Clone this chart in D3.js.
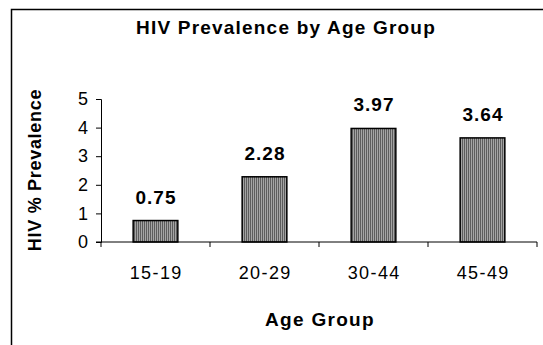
<!DOCTYPE html>
<html><head><meta charset="utf-8">
<script src="https://cdn.jsdelivr.net/npm/d3@7"></script>
<style>body{margin:0;background:#fff}svg{display:block;font-family:"Liberation Sans",Arial,sans-serif}</style>
</head><body><svg id="c" width="543" height="345"></svg>
<script>
const categories = ["15-19","20-29","30-44","45-49"];
const values = [0.75, 2.28, 3.97, 3.64];
const yTicks = [0,1,2,3,4,5];
const titleText = "HIV Prevalence by Age Group";
const xTitle = "Age Group";
const yTitle = "HIV % Prevalence";

const svg = d3.select("#c");
const defs = svg.append("defs");
const pat = defs.append("pattern").attr("id","stripe").attr("patternUnits","userSpaceOnUse")
  .attr("width",2).attr("height",4);
pat.append("rect").attr("width",2).attr("height",4).attr("fill","#a4a4a4");
pat.append("rect").attr("width",1).attr("height",4).attr("fill","#5c5c5c");

// outer border
svg.append("path").attr("d","M11.5,345 V9.5 H543").attr("fill","none").attr("stroke","#000").attr("stroke-width",1.5);

const m = {left:101, right:537, top:99, bottom:242};
const x = d3.scaleBand().domain(categories).range([m.left, m.right]).paddingInner(0.59).paddingOuter(0.295);
const y = d3.scaleLinear().domain([0,5]).range([m.bottom, m.top]);

svg.append("text").attr("x",286).attr("y",34).attr("text-anchor","middle")
  .attr("font-size",19).attr("font-weight","bold").attr("letter-spacing",1.2).text(titleText);

// bars
svg.selectAll("rect.bar").data(values).join("rect").attr("class","bar")
  .attr("x",(d,i)=>x(categories[i])).attr("width",x.bandwidth())
  .attr("y",d=>y(d)).attr("height",d=>y(0)-y(d))
  .attr("fill","url(#stripe)").attr("stroke","#000").attr("stroke-width",1.5);

// value labels
svg.selectAll("text.val").data(values).join("text").attr("class","val")
  .attr("x",(d,i)=>x(categories[i])+x.bandwidth()/2+0.5).attr("y",d=>y(d)-17)
  .attr("text-anchor","middle").attr("font-size",19).attr("font-weight","bold").attr("letter-spacing",1)
  .text(d=>d.toFixed(2));

// y axis
const ya = svg.append("g").attr("transform",`translate(${m.left},0)`)
  .call(d3.axisLeft(y).tickValues(yTicks).tickSize(5).tickPadding(8).tickFormat(d3.format("d")));
ya.select(".domain").attr("stroke","#000");
ya.selectAll("text").attr("font-size",18).attr("font-family","Liberation Sans, Arial").attr("fill","#000");

// x axis
const xa = svg.append("g").attr("transform",`translate(0,${m.bottom})`);
xa.append("line").attr("x1",m.left-5).attr("x2",m.right).attr("stroke","#000");
const edges = categories.map(c=>x(c)-x.step()*x.paddingInner()/2).concat([m.right]);
xa.selectAll("line.t").data(edges).join("line").attr("class","t")
  .attr("x1",d=>d).attr("x2",d=>d).attr("y1",0).attr("y2",5).attr("stroke","#000");
xa.selectAll("text").data(categories).join("text")
  .attr("x",d=>x(d)+x.bandwidth()/2+0.7).attr("y",37).attr("text-anchor","middle")
  .attr("font-size",18).attr("letter-spacing",1.4).text(d=>d);

svg.append("text").attr("x",320).attr("y",326).attr("text-anchor","middle")
  .attr("font-size",19).attr("font-weight","bold").attr("letter-spacing",1.3).text(xTitle);
svg.append("text").attr("transform","translate(41,170) rotate(-90)").attr("text-anchor","middle")
  .attr("font-size",18).attr("font-weight","bold").attr("letter-spacing",0.7).text(yTitle);
</script></body></html>
